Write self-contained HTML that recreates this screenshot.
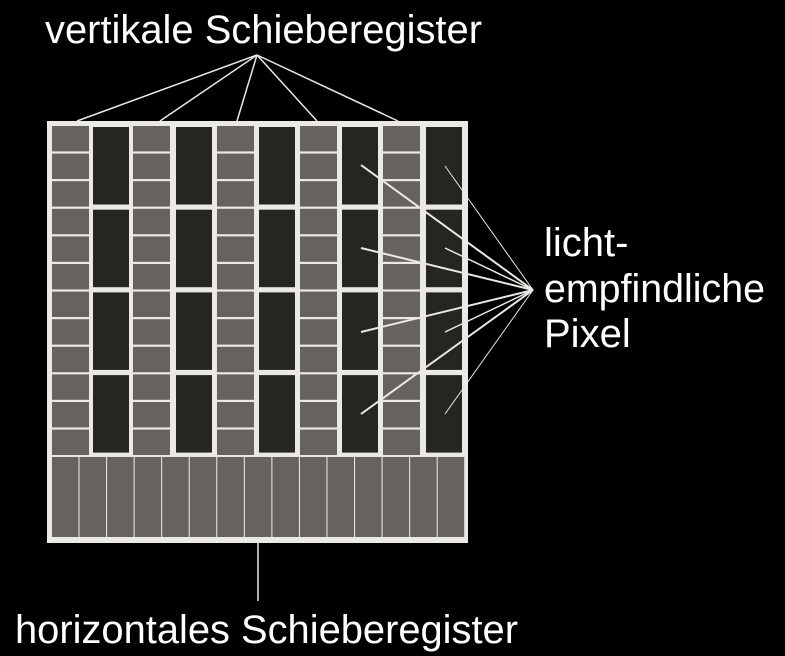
<!DOCTYPE html>
<html><head><meta charset="utf-8"><style>
html,body{margin:0;padding:0;background:#000;}
svg{display:block;}
text{font-family:"Liberation Sans",sans-serif;fill:#fff;font-size:40px;}
</style></head><body>
<svg width="785" height="656" viewBox="0 0 785 656">
<rect x="0" y="0" width="785" height="656" fill="#000"/>
<rect x="47" y="121" width="421" height="422" fill="#ebe9e4"/>
<g id="cells"></g>
<g stroke="#ebe9e4" stroke-width="1.5">
<line x1="257" y1="55" x2="77" y2="121"/>
<line x1="257" y1="55" x2="160" y2="121"/>
<line x1="257" y1="55" x2="237" y2="121"/>
<line x1="257" y1="55" x2="317" y2="121"/>
<line x1="257" y1="55" x2="398" y2="121"/>
</g>
<g stroke="#ebe9e4">
<line x1="533" y1="290" x2="361" y2="165" stroke-width="2"/>
<line x1="533" y1="290" x2="361" y2="248" stroke-width="2"/>
<line x1="533" y1="290" x2="361" y2="332" stroke-width="2"/>
<line x1="533" y1="290" x2="361" y2="414" stroke-width="2"/>
<line x1="533" y1="290" x2="445" y2="166" stroke-width="1"/>
<line x1="533" y1="290" x2="445" y2="248" stroke-width="1.5"/>
<line x1="533" y1="290" x2="445" y2="332" stroke-width="1.5"/>
<line x1="533" y1="290" x2="445" y2="414" stroke-width="1"/>
</g>
<line x1="258" y1="543" x2="258" y2="601" stroke="#ebe9e4" stroke-width="1.5"/>
<text x="45" y="43" textLength="437" lengthAdjust="spacingAndGlyphs">vertikale Schieberegister</text>
<text x="544" y="256">licht-</text>
<text x="544" y="302" textLength="221" lengthAdjust="spacingAndGlyphs">empfindliche</text>
<text x="544" y="347">Pixel</text>
<text x="15" y="643" textLength="503" lengthAdjust="spacingAndGlyphs">horizontales Schieberegister</text>
</svg>
<script>
const g=document.getElementById('cells');
const NS='http://www.w3.org/2000/svg';
function r(x,y,w,h,f,name){const e=document.createElementNS(NS,'rect');e.setAttribute('x',x);e.setAttribute('y',y);e.setAttribute('width',w);e.setAttribute('height',h);e.setAttribute('fill',f);


g.appendChild(e);}
const grayX=[52,133,217,300,383];
const darkX=[93,176,259,342,426];
for(const x of grayX){
  for(let i=0;i<12;i++){
    const y=126+i*27.6;
    r(x,y,37,25.4,'#67625f','vertical-register-cell');
  }
}
for(const x of darkX){
  for(let j=0;j<4;j++){
    const y=127+j*82.7;
    r(x,y,36,77.5,'#252521','pixel');
  }
}
for(let i=0;i<15;i++){
  const x=52+i*27.55;
  r(x,457,26.5,80,'#67625f','horizontal-register-cell');
}
</script>
</body></html>
